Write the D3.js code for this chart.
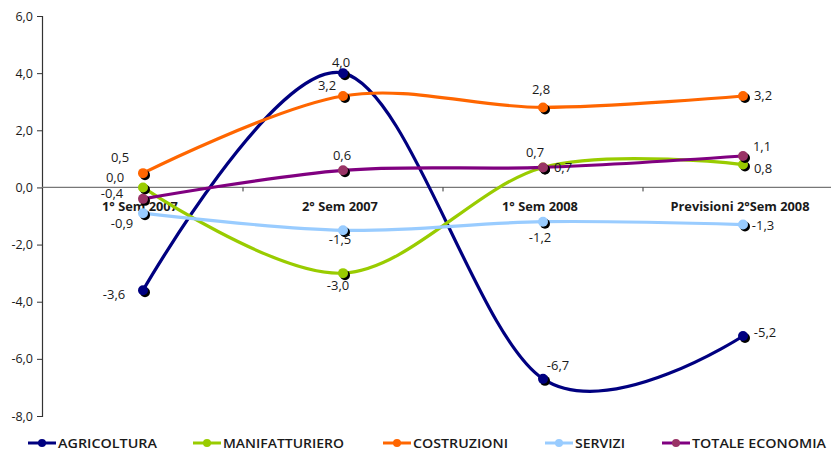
<!DOCTYPE html>
<html>
<head>
<meta charset="utf-8">
<script src="https://cdn.jsdelivr.net/npm/d3@7"></script>
<style>
  html, body { margin: 0; padding: 0; background: #fff; }
  svg { display: block; }
  text { font-family: "Open Sans", "DejaVu Sans", sans-serif; fill: #1a1a1a; }
</style>
</head>
<body>
<svg id="chart" width="831" height="453"></svg>
<script>
// ---- Data ----
const categories = ["1° Sem 2007", "2° Sem 2007", "1° Sem 2008", "Previsioni 2°Sem 2008"];
const seriesNames = ["AGRICOLTURA", "MANIFATTURIERO", "COSTRUZIONI", "SERVIZI", "TOTALE ECONOMIA"];
const agricoltura    = [-3.6, 4.0, -6.7, -5.2];
const manifatturiero = [0.0, -3.0, 0.7, 0.8];
const costruzioni    = [0.5, 3.2, 2.8, 3.2];
const servizi        = [-0.9, -1.5, -1.2, -1.3];
const totaleEconomia = [-0.4, 0.6, 0.7, 1.1];
const yTicks = [-8, -6, -4, -2, 0, 2, 4, 6];

// ---- Styles ----
const lineColors   = ["#000080", "#99CC00", "#FF6600", "#99CCFF", "#800080"];
const markerColors = ["#000080", "#99CC00", "#FF6600", "#99CCFF", "#993366"];
// label offsets (dx, dy) relative to each marker, per series, per category
const labelOffsets = [
  [[-29, 4], [-2, -11], [15, -13], [22, -4]],
  [[-28, -10], [-5, 12], [-8, -15], [20, 4]],
  [[-23, -16], [-16, -11], [-2, -18], [20, -1]],
  [[-21, 10], [-3, 9], [-3, 16], [20, 1]],
  [[-31, -5], [-1, -15], [20, 0], [19, -10]]
];
// legend layout
const legendX = [28, 193, 383, 545, 662];
const legendTextWidth = [99, 121, 95, 50, 134];

const values = [agricoltura, manifatturiero, costruzioni, servizi, totaleEconomia];
const fmt = v => d3.format(".1f")(v).replace(".", ",").replace("−", "-");

const svg = d3.select("#chart");

const x = d3.scaleBand().domain(categories).range([43, 843]).paddingInner(0).paddingOuter(0);
const xc = c => x(c) + x.bandwidth() / 2;
const y = d3.scaleLinear().domain([-8, 6]).range([416, 16]);

// Y axis
const yAxis = svg.append("g").attr("transform", "translate(42,0)")
  .call(d3.axisLeft(y).tickValues(yTicks).tickSize(5).tickPadding(4).tickFormat(fmt));
yAxis.select(".domain").attr("stroke", "#333").attr("stroke-width", 1.2);
yAxis.selectAll(".tick line").attr("stroke", "#333");
yAxis.selectAll(".tick text").attr("font-size", 12.5).attr("fill", "#1a1a1a")
  .style("font-family", "'Open Sans', sans-serif");

// X axis line at zero
svg.append("line").attr("x1", 42).attr("x2", 831).attr("y1", y(0)).attr("y2", y(0))
  .attr("stroke", "#777").attr("stroke-width", 1.3);
// boundary ticks
svg.selectAll("line.xtick").data(categories.slice(1)).enter().append("line")
  .attr("class", "xtick")
  .attr("x1", d => x(d)).attr("x2", d => x(d))
  .attr("y1", y(0)).attr("y2", y(0) + 4).attr("stroke", "#333");

// Category labels
svg.selectAll("text.cat").data(categories).enter().append("text")
  .attr("class", "cat")
  .attr("x", d => xc(d) - 3).attr("y", y(0) + 24)
  .attr("text-anchor", "middle").attr("font-size", 12.8).attr("font-weight", "bold")
  .text(d => d);

// Series
const line = d3.line().x((d, i) => xc(categories[i])).y(d => y(d)).curve(d3.curveCardinal.tension(0));

values.forEach((vals, s) => {
  const g = svg.append("g");
  g.append("path").datum(vals).attr("d", line).attr("fill", "none")
    .attr("stroke", lineColors[s]).attr("stroke-width", 3.2);
  g.selectAll("circle.sh").data(vals).enter().append("circle")
    .attr("cx", (d, i) => xc(categories[i]) + 2).attr("cy", d => y(d) + 2).attr("r", 5).attr("fill", "#000");
  g.selectAll("circle.mk").data(vals).enter().append("circle")
    .attr("cx", (d, i) => xc(categories[i])).attr("cy", d => y(d)).attr("r", 5).attr("fill", markerColors[s]);
});

// Data labels (drawn on top)
values.forEach((vals, s) => {
  svg.append("g").selectAll("text").data(vals).enter().append("text")
    .attr("x", (d, i) => xc(categories[i]) + labelOffsets[s][i][0])
    .attr("y", (d, i) => y(d) + labelOffsets[s][i][1])
    .attr("dy", "0.35em")
    .attr("text-anchor", "middle").attr("font-size", 13)
    .text(d => fmt(d));
});

// Legend
const legend = svg.append("g");
seriesNames.forEach((n, s) => {
  const lx = legendX[s], ly = 443;
  legend.append("line").attr("x1", lx).attr("x2", lx + 28).attr("y1", ly).attr("y2", ly)
    .attr("stroke", lineColors[s]).attr("stroke-width", 3);
  legend.append("circle").attr("cx", lx + 14).attr("cy", ly).attr("r", 4).attr("fill", markerColors[s]);
  legend.append("text").attr("x", lx + 30).attr("y", ly).attr("dy", "0.36em")
    .attr("font-size", 13).attr("font-weight", 600)
    .attr("textLength", legendTextWidth[s]).attr("lengthAdjust", "spacingAndGlyphs")
    .text(n);
});
</script>
</body>
</html>
